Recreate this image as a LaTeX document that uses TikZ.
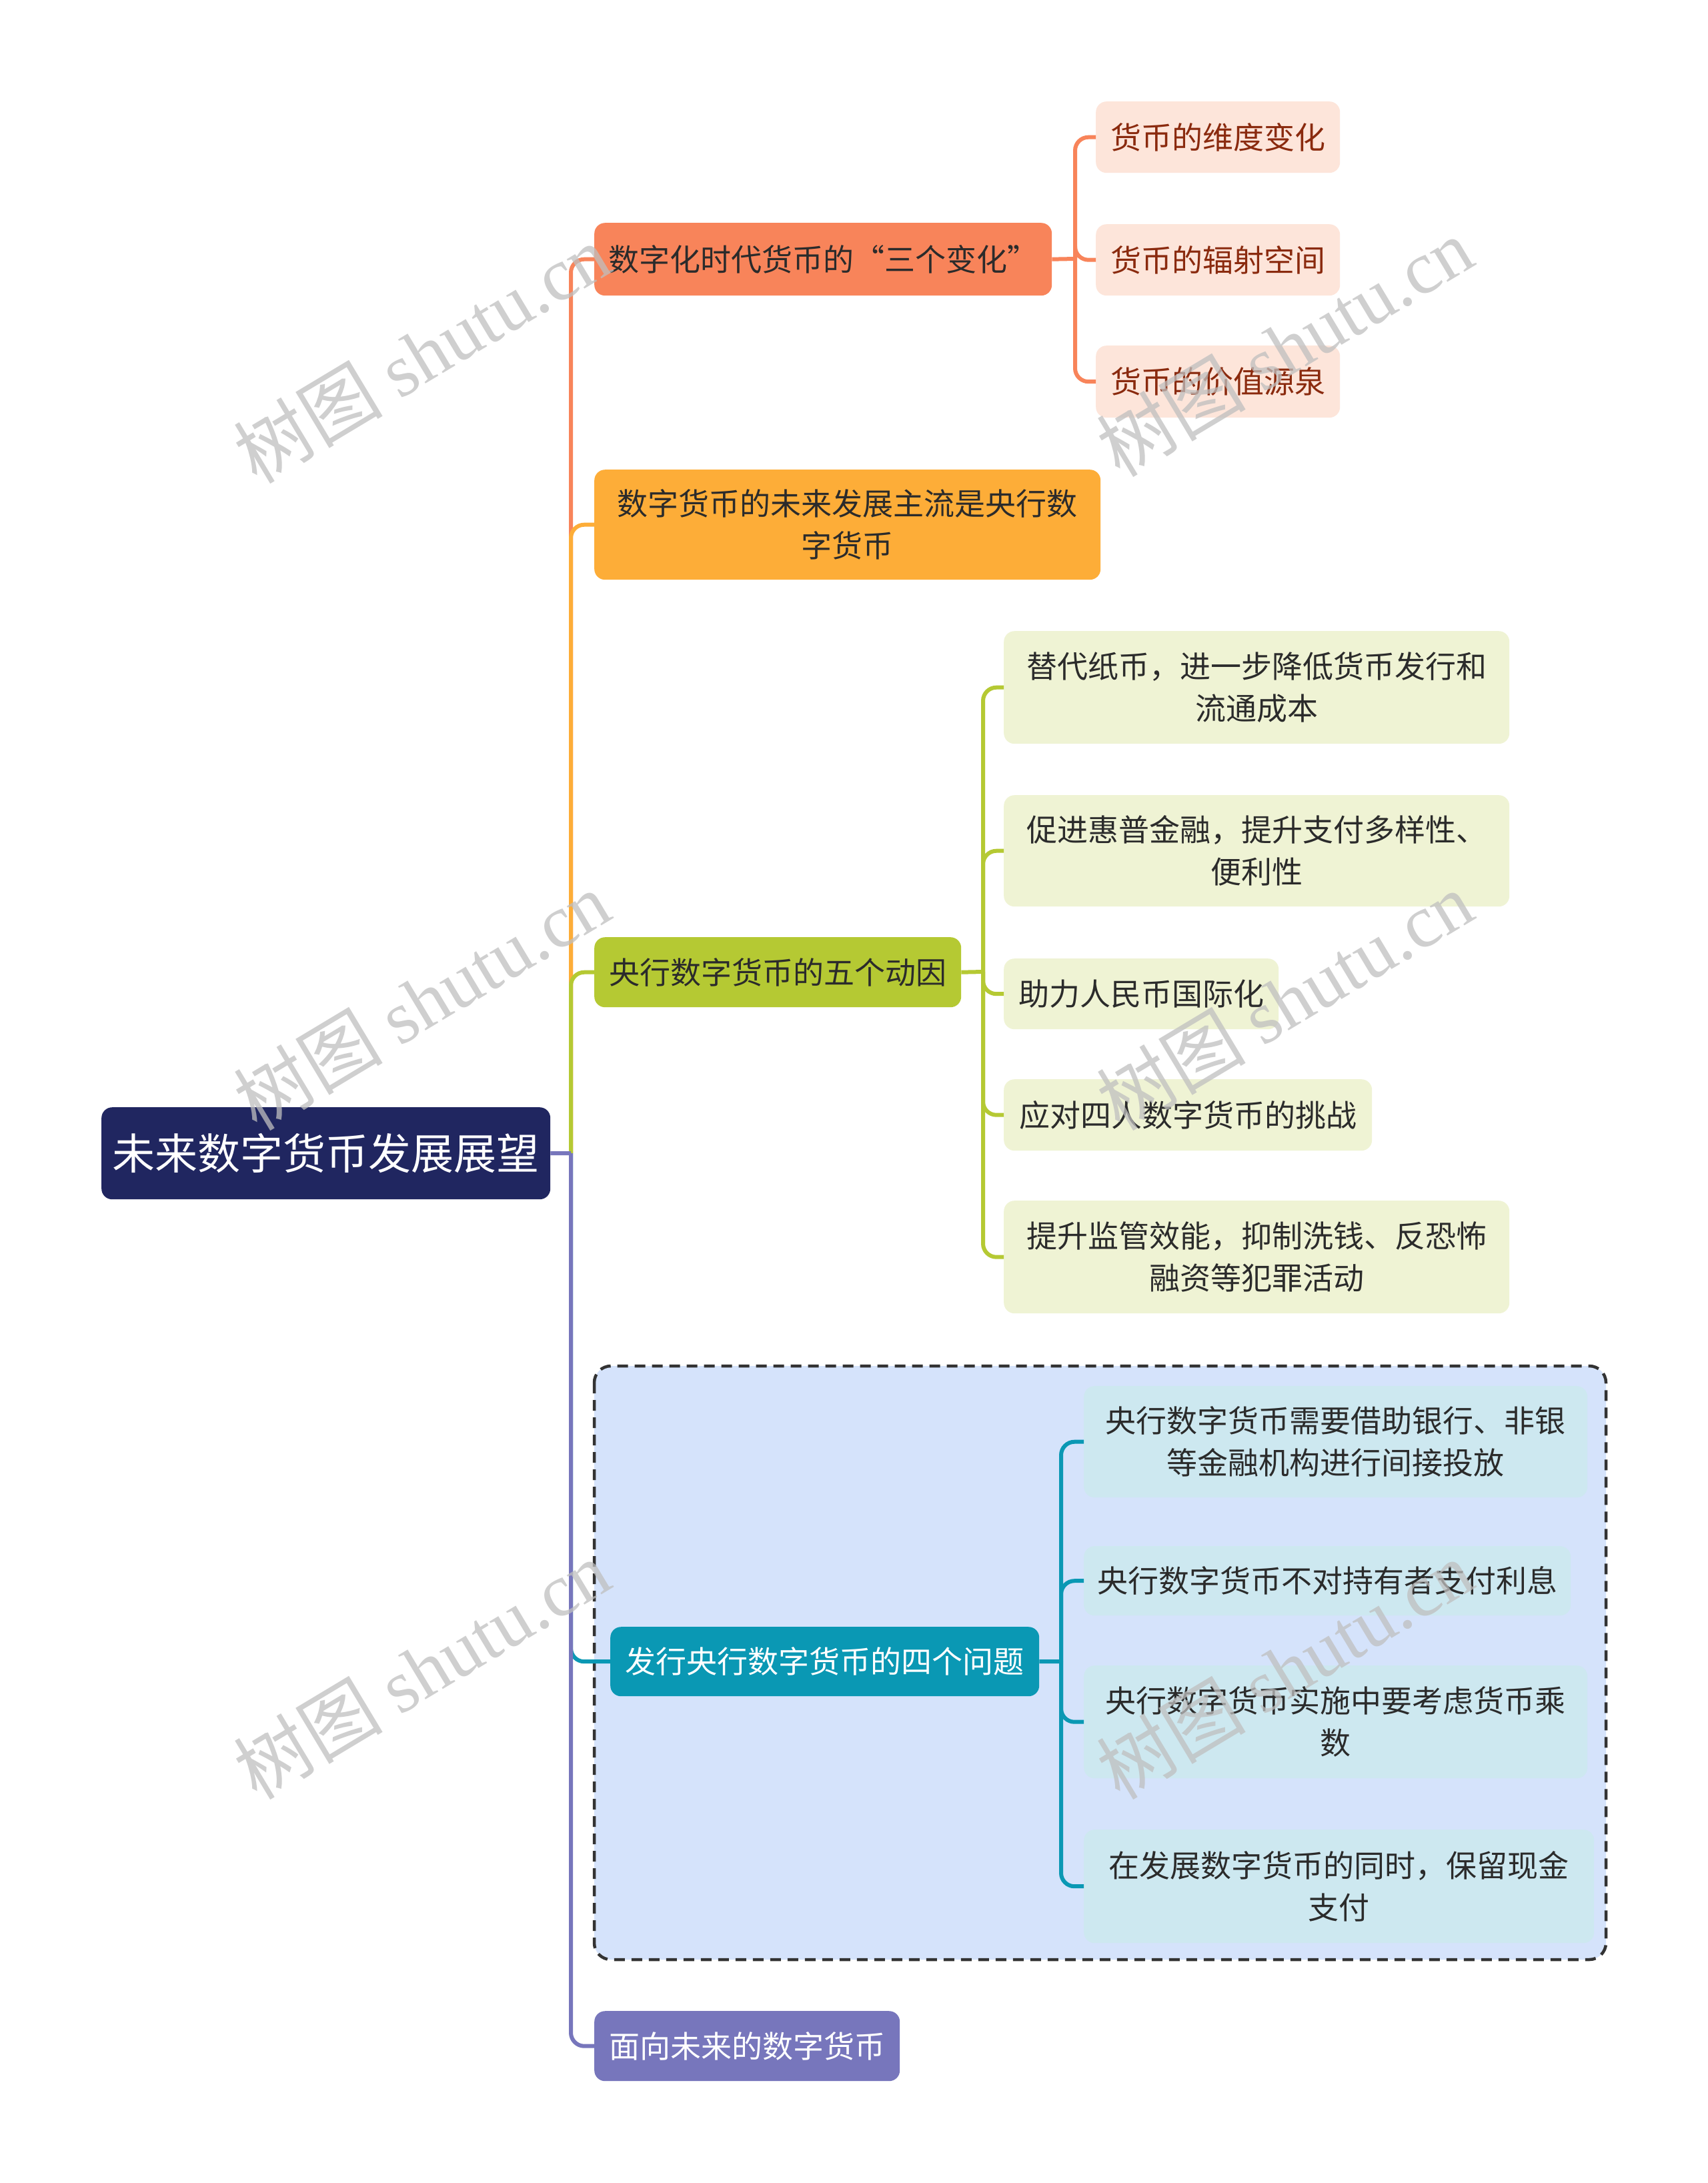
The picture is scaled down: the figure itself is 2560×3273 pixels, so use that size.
\documentclass[tikz,border=0pt]{standalone}
\usepackage{fontspec}
\setmainfont{Noto Sans CJK SC}
\newfontfamily\wmserif{Liberation Serif}
\newfontfamily\wmcjk{Noto Sans CJK SC}
\definecolor{rootc}{HTML}{202660}
\definecolor{orc}{HTML}{F8845A}
\definecolor{ylc}{HTML}{FDAD38}
\definecolor{grc}{HTML}{B5C933}
\definecolor{tlc}{HTML}{0A98B4}
\definecolor{ppc}{HTML}{7776BC}
\definecolor{orlt}{HTML}{FDE5DA}
\definecolor{ortx}{HTML}{8A2A0E}
\definecolor{grlt}{HTML}{EFF3D4}
\definecolor{tllt}{HTML}{CDE8F0}
\definecolor{bglt}{HTML}{D5E3FB}
\definecolor{dtx}{HTML}{2B2B2B}
\tikzset{
  box/.style={rounded corners=16pt, inner sep=0pt, align=center, anchor=north west},
  lone/.style={box, font=\fontsize{46}{63}\selectfont},
  ltwo/.style={box, font=\fontsize{46}{63}\selectfont, text=dtx},
  conn/.style={line width=6pt},
  rconn/.style={line width=6pt, rounded corners=20pt},
  wm/.style={rotate=31, text=black!25, opacity=0.75, font=\fontsize{112}{112}\selectfont}
}
\begin{document}
\begin{tikzpicture}[x=1pt,y=-1pt]
\useasboundingbox[fill=white] (0,0) rectangle (2560,3273);

% dashed group background
\draw[fill=bglt, draw=black!80, line width=4.5pt, dash pattern=on 16pt off 10pt, rounded corners=25pt] (891,2048) rectangle (2408,2938);

% root
\node[box, fill=rootc, text=white, minimum width=673pt, minimum height=138pt, font=\fontsize{64}{80}\selectfont] (root) at (152,1660) {未来数字货币发展展望};

% level 1
\node[lone, fill=orc, text=dtx, minimum width=686pt, minimum height=109pt] (n1) at (891,334) {数字化时代货币的“三个变化”};
\node[lone, fill=ylc, text=dtx, minimum width=759pt, minimum height=165pt] (n2) at (891,704) {数字货币的未来发展主流是央行数\\字货币};
\node[lone, fill=grc, text=dtx, minimum width=550pt, minimum height=105pt] (n3) at (891,1405) {央行数字货币的五个动因};
\node[lone, fill=tlc, text=white, minimum width=643pt, minimum height=104pt] (n4) at (915,2439) {发行央行数字货币的四个问题};
\node[lone, fill=ppc, text=white, minimum width=458pt, minimum height=105pt] (n5) at (891,3015) {面向未来的数字货币};

% level 2 orange
\node[ltwo, fill=orlt, text=ortx, minimum width=366pt, minimum height=107pt] (a1) at (1643,152) {货币的维度变化};
\node[ltwo, fill=orlt, text=ortx, minimum width=366pt, minimum height=107pt] (a2) at (1643,336) {货币的辐射空间};
\node[ltwo, fill=orlt, text=ortx, minimum width=366pt, minimum height=108pt] (a3) at (1643,518) {货币的价值源泉};

% level 2 green
\node[ltwo, fill=grlt, minimum width=758pt, minimum height=169pt] (b1) at (1505,946) {替代纸币，进一步降低货币发行和\\流通成本};
\node[ltwo, fill=grlt, minimum width=758pt, minimum height=167pt] (b2) at (1505,1192) {促进惠普金融，提升支付多样性、\\便利性};
\node[ltwo, fill=grlt, minimum width=412pt, minimum height=106pt] (b3) at (1505,1437) {助力人民币国际化};
\node[ltwo, fill=grlt, minimum width=552pt, minimum height=107pt] (b4) at (1505,1618) {应对四人数字货币的挑战};
\node[ltwo, fill=grlt, minimum width=758pt, minimum height=169pt] (b5) at (1505,1800) {提升监管效能，抑制洗钱、反恐怖\\融资等犯罪活动};

% level 2 teal
\node[ltwo, fill=tllt, minimum width=755pt, minimum height=167pt] (c1) at (1625,2078) {央行数字货币需要借助银行、非银\\等金融机构进行间接投放};
\node[ltwo, fill=tllt, minimum width=730pt, minimum height=104pt] (c2) at (1625,2318) {央行数字货币不对持有者支付利息};
\node[ltwo, fill=tllt, minimum width=755pt, minimum height=169pt] (c3) at (1625,2497) {央行数字货币实施中要考虑货币乘\\数};
\node[ltwo, fill=tllt, minimum width=765pt, minimum height=170pt] (c4) at (1625,2743) {在发展数字货币的同时，保留现金\\支付};

% junctions
\coordinate (rj) at (856,1729);
\coordinate (j1) at (1612,388);
\coordinate (j3) at (1474,1457);
\coordinate (j4) at (1591,2491);

% level-1 connectors
\draw[rconn, orc] (rj) |- (n1.west);
\draw[rconn, ylc] (rj) |- (n2.west);
\draw[rconn, grc] (rj) |- (n3.west);
\draw[rconn, tlc] (rj) |- (n4.west);
\draw[rconn, ppc] (rj) |- (n5.west);
\draw[conn, ppc] (root.east) -- (rj);

% orange children
\draw[conn, orc] (n1.east) -- (j1);
\draw[rconn, orc] (j1) |- (a1.west);
\draw[rconn, orc] (j1) |- (a2.west);
\draw[rconn, orc] (j1) |- (a3.west);

% green children
\draw[conn, grc] (n3.east) -- (j3);
\draw[rconn, grc] (j3) |- (b1.west);
\draw[rconn, grc] (j3) |- (b2.west);
\draw[rconn, grc] (j3) |- (b3.west);
\draw[rconn, grc] (j3) |- (b4.west);
\draw[rconn, grc] (j3) |- (b5.west);

% teal children
\draw[conn, tlc] (n4.east) -- (j4);
\draw[rconn, tlc] (j4) |- (c1.west);
\draw[rconn, tlc] (j4) |- (c2.west);
\draw[rconn, tlc] (j4) |- (c3.west);
\draw[rconn, tlc] (j4) |- (c4.west);

% watermarks
\node[wm] (w1) at (632,530) {\wmcjk 树图\ \wmserif shutu.cn};
\node[wm] (w2) at (1926,520) {\wmcjk 树图\ \wmserif shutu.cn};
\node[wm] (w3) at (632,1500) {\wmcjk 树图\ \wmserif shutu.cn};
\node[wm] (w4) at (1926,1500) {\wmcjk 树图\ \wmserif shutu.cn};
\node[wm] (w5) at (632,2503) {\wmcjk 树图\ \wmserif shutu.cn};
\node[wm] (w6) at (1926,2503) {\wmcjk 树图\ \wmserif shutu.cn};
\end{tikzpicture}
\end{document}
